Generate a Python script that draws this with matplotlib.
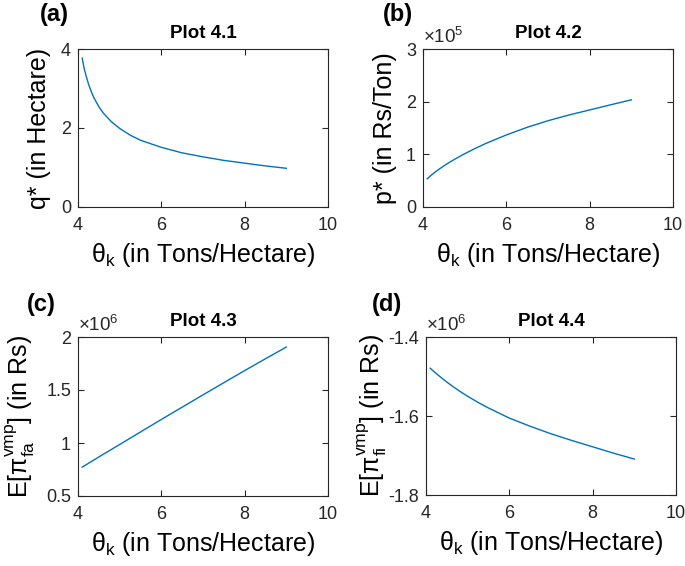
import matplotlib
matplotlib.use("Agg")
import matplotlib.pyplot as plt

plt.rcParams['font.family'] = ['Liberation Sans', 'DejaVu Sans']
plt.rcParams['mathtext.fontset'] = 'custom'
plt.rcParams['mathtext.rm'] = 'Liberation Sans'
plt.rcParams['mathtext.it'] = 'Liberation Sans'
plt.rcParams['mathtext.bf'] = 'Liberation Sans:bold'
plt.rcParams['mathtext.default'] = 'rm'

# ---------------- data ----------------
theta = [4.1, 4.15, 4.2, 4.25, 4.3, 4.35, 4.4, 4.5, 4.6, 4.7, 4.8, 5.0, 5.25, 5.5,
         6.0, 6.5, 7.0, 7.5, 8.0, 8.5, 9.0]
q_star = [3.77, 3.50, 3.30, 3.12, 2.97, 2.84, 2.73, 2.54, 2.39, 2.27, 2.16, 1.99, 1.82, 1.69,
          1.51, 1.37, 1.27, 1.18, 1.11, 1.04, 0.98]
p_star_e5 = [0.535, 0.570, 0.605, 0.637, 0.668, 0.697, 0.726, 0.780, 0.831, 0.879, 0.925, 1.011,
             1.111, 1.204, 1.368, 1.513, 1.638, 1.746, 1.843, 1.940, 2.035]
profit_fa_e6 = [0.772, 0.784, 0.796, 0.808, 0.820, 0.832, 0.844, 0.868, 0.892, 0.915, 0.939, 0.986,
                1.045, 1.104, 1.222, 1.338, 1.454, 1.569, 1.683, 1.795, 1.905]
profit_fi_e6 = [-1.479, -1.4837, -1.4883, -1.4928, -1.4972, -1.5015, -1.5058, -1.5140, -1.5219,
                -1.5294, -1.5367, -1.5501, -1.5656, -1.5798, -1.6053, -1.626, -1.645, -1.662,
                -1.678, -1.694, -1.709]

titles = ['Plot 4.1', 'Plot 4.2', 'Plot 4.3', 'Plot 4.4']
panel_labels = ['(a)', '(b)', '(c)', '(d)']
ylabels = ['q* (in Hectare)', 'p* (in Rs/Ton)',
           r'E[$\pi^{vmp}_{fa}$] (in Rs)', r'E[$\pi^{vmp}_{fi}$] (in Rs)']
xlabel = r'θ$_{\mathrm{k}}$ (in Tons/Hectare)'
xticks = [4, 6, 8, 10]
yticks_list = [[0, 2, 4], [0, 1, 2, 3], [0.5, 1, 1.5, 2], [-1.8, -1.6, -1.4]]
ytick_labels_list = [['0', '2', '4'], ['0', '1', '2', '3'], ['0.5', '1', '1.5', '2'], ['-1.8', '-1.6', '-1.4']]
ylims = [(0, 4), (0, 3), (0.5, 2), (-1.8, -1.4)]
multipliers = [None, r'$\times$10$^{5}$', r'$\times$10$^{6}$', r'$\times$10$^{6}$']
series = [q_star, p_star_e5, profit_fa_e6, profit_fi_e6]

W, H = 685, 566
fig = plt.figure(figsize=(W / 100, H / 100), dpi=100)

# axes boxes in pixel (left, right, top, bottom)
boxes = [(78, 328, 49, 207), (423, 673, 49, 207), (78, 328, 337, 496), (426, 676, 337, 495)]
ylabel_x = [-0.108, -0.104, -0.163, -0.147]
panel_pos = [(40, 15), (383, 15), (27, 304), (372, 304)]

line_color = '#0072BD'
ax_color = '#262626'

for i in range(4):
    l, r, t, b = boxes[i]
    ax = fig.add_axes([l / W, 1 - b / H, (r - l) / W, (b - t) / H])
    ax.plot(theta, series[i], color=line_color, lw=1.0)
    ax.set_xlim(4, 10)
    ax.set_ylim(*ylims[i])
    ax.set_xticks(xticks)
    ax.set_xticklabels([str(v) for v in xticks])
    ax.set_yticks(yticks_list[i])
    ax.set_yticklabels(ytick_labels_list[i])
    ax.tick_params(direction='in', top=True, right=True, length=4, width=0.8,
                   labelsize=13, colors=ax_color)
    ax.tick_params(axis='x', pad=7)
    ax.tick_params(axis='y', pad=5)
    for s in ax.spines.values():
        s.set_color(ax_color)
        s.set_linewidth(0.8)
    ax.set_title(titles[i], fontsize=13.5, fontweight='bold', pad=8)
    ax.set_xlabel(xlabel, fontsize=18, labelpad=5)
    ax.set_ylabel(ylabels[i], fontsize=18)
    ax.yaxis.set_label_coords(ylabel_x[i], 0.5)
    if multipliers[i]:
        ax.text(0.0, 1.01, multipliers[i], transform=ax.transAxes, ha='left', va='bottom',
                fontsize=13.5, color=ax_color)
    px, py = panel_pos[i]
    fig.text(px / W, 1 - py / H, panel_labels[i], fontsize=17, fontweight='bold',
             ha='left', va='center')

fig.savefig('out.png', dpi=100)
